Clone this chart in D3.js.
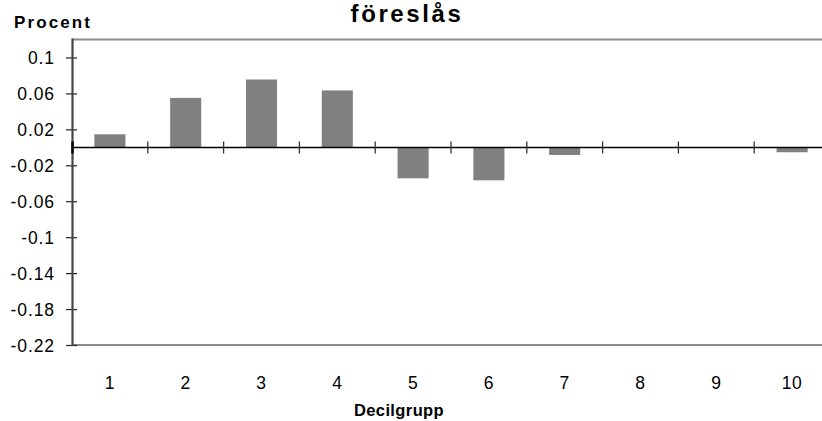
<!DOCTYPE html>
<html>
<head>
<meta charset="utf-8">
<script src="https://cdn.jsdelivr.net/npm/d3@7"></script>
<style>
  html, body { margin: 0; padding: 0; background: #fff; }
  svg { display: block; }
  text { font-family: "Liberation Sans", Arial, sans-serif; fill: #000; }
</style>
</head>
<body>
<script>
// Decile groups and the change in percent for each
const deciles = ["1", "2", "3", "4", "5", "6", "7", "8", "9", "10"];
const change = [0.0145, 0.055, 0.0755, 0.0633, -0.0345, -0.0367, -0.0085, 0, 0, -0.0055];
const yTicks = [0.1, 0.06, 0.02, -0.02, -0.06, -0.1, -0.14, -0.18, -0.22];
const yTickLabels = ["0.1", "0.06", "0.02", "-0.02", "-0.06", "-0.1", "-0.14", "-0.18", "-0.22"];
const titleText = "föreslås";
const yTitle = "Procent";
const xTitle = "Decilgrupp";

const W = 822, H = 421;
const plotLeft = 72, plotRight = 830, plotTop = 39.5, plotBottom = 345;

const svg = d3.select("body").append("svg").attr("width", W).attr("height", H);

const x = d3.scaleBand().domain(deciles).range([plotLeft, plotRight])
  .paddingInner(0.59).paddingOuter(0.295);
const y = d3.scaleLinear().domain([-0.22, 0.12]).range([plotBottom, plotTop]);

// plot frame: top and bottom edges
svg.append("line").attr("x1", plotLeft).attr("x2", W).attr("y1", plotTop).attr("y2", plotTop)
  .attr("stroke", "#8a8a8a").attr("stroke-width", 2);
svg.append("line").attr("x1", plotLeft).attr("x2", W).attr("y1", plotBottom).attr("y2", plotBottom)
  .attr("stroke", "#8a8a8a").attr("stroke-width", 2);

// bars
svg.append("g").selectAll("rect").data(change).join("rect")
  .attr("x", (d, i) => x(deciles[i]))
  .attr("width", x.bandwidth())
  .attr("y", d => y(Math.max(0, d)))
  .attr("height", d => Math.abs(y(d) - y(0)))
  .attr("fill", "#808080");

// zero line with category separators
const zeroY = Math.round(y(0)) + 0.5;
svg.append("line").attr("x1", plotLeft).attr("x2", W).attr("y1", zeroY).attr("y2", zeroY)
  .attr("stroke", "#000").attr("stroke-width", 1.3);
const step = x.step();
const seps = deciles.slice(1).map(d => x(d) - x.paddingOuter() * step);
svg.append("g").selectAll("line").data(seps).join("line")
  .attr("x1", d => d).attr("x2", d => d)
  .attr("y1", zeroY - 6).attr("y2", zeroY + 6)
  .attr("stroke", "#333").attr("stroke-width", 1.3);

// y axis
const yAxis = d3.axisLeft(y).tickValues(yTicks)
  .tickFormat((d, i) => yTickLabels[i]).tickSize(0).tickPadding(0);
const gy = svg.append("g").attr("transform", `translate(${plotLeft},0)`).call(yAxis);
gy.select(".domain").remove();
gy.selectAll(".tick line").remove();
gy.selectAll(".tick").append("line")
  .attr("x1", -6).attr("x2", 5).attr("y1", 0).attr("y2", 0)
  .attr("stroke", "#222").attr("stroke-width", 1.2);
gy.selectAll(".tick text")
  .attr("x", -17).attr("dy", "0.36em")
  .style("font-size", "17.5px").style("letter-spacing", "0.9px")
  .attr("font-family", null);
svg.append("line").attr("x1", plotLeft + 0.5).attr("x2", plotLeft + 0.5)
  .attr("y1", plotTop - 1).attr("y2", plotBottom + 1)
  .attr("stroke", "#444").attr("stroke-width", 2.2);
svg.append("line").attr("x1", plotLeft + 0.5).attr("x2", plotLeft + 0.5)
  .attr("y1", zeroY - 6).attr("y2", zeroY + 6)
  .attr("stroke", "#000").attr("stroke-width", 2.5);

// x category labels
const xAxis = d3.axisBottom(x).tickSize(0).tickPadding(0);
const gx = svg.append("g").attr("transform", `translate(0,${plotBottom})`).call(xAxis);
gx.select(".domain").remove();
gx.selectAll(".tick text")
  .attr("y", 44).attr("dy", 0)
  .style("font-size", "17.5px").style("letter-spacing", "0.6px")
  .attr("font-family", null);

// titles
svg.append("text").attr("x", 407).attr("y", 21.5).attr("text-anchor", "middle")
  .style("font-size", "24px").style("font-weight", "bold").style("letter-spacing", "2.6px")
  .text(titleText);
svg.append("text").attr("x", 14).attr("y", 28)
  .style("font-size", "17px").style("font-weight", "bold").style("letter-spacing", "2.1px")
  .text(yTitle);
svg.append("text").attr("x", 399).attr("y", 416).attr("text-anchor", "middle")
  .style("font-size", "16.5px").style("font-weight", "bold").style("letter-spacing", "0.4px")
  .text(xTitle);
</script>
</body>
</html>
